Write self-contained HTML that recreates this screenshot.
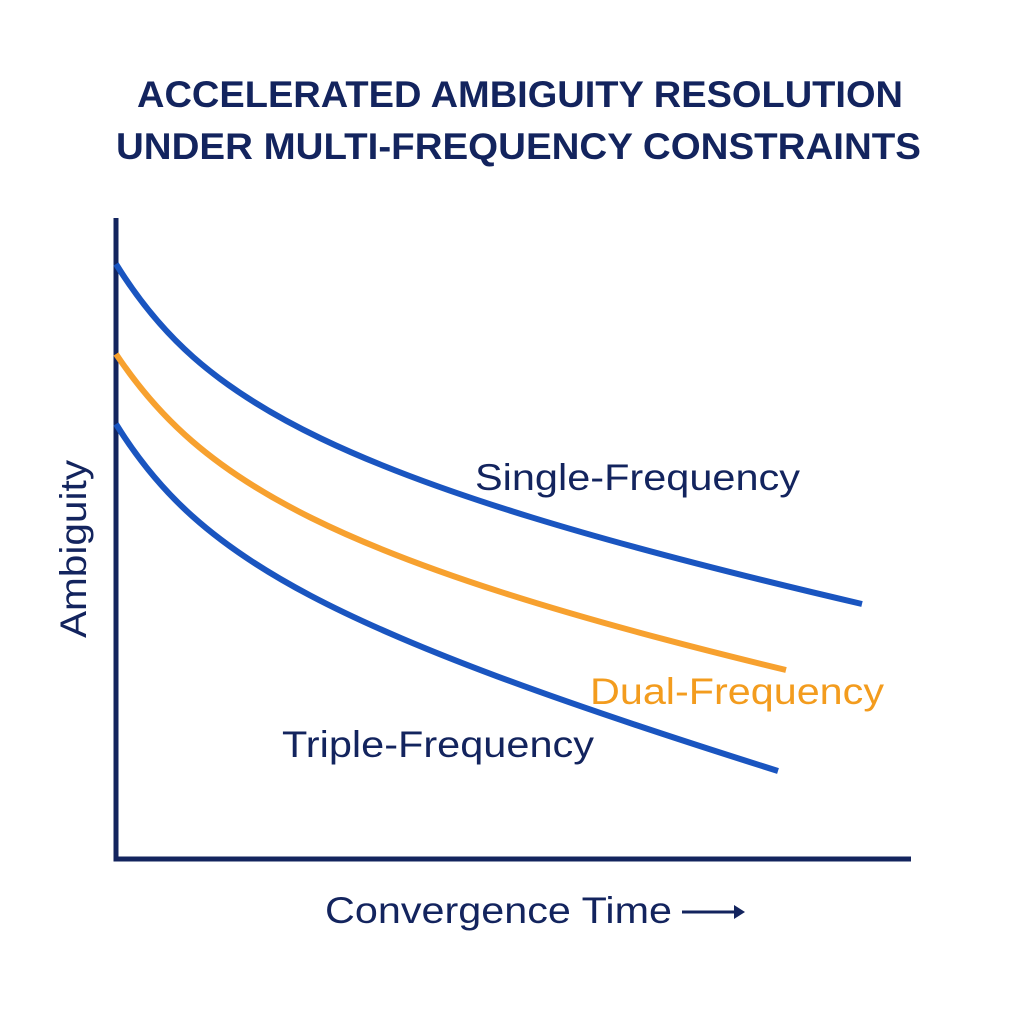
<!DOCTYPE html>
<html><head><style>html,body{margin:0;padding:0;background:#fff;}</style></head>
<body>
<svg width="1024" height="1024" viewBox="0 0 1024 1024" xmlns="http://www.w3.org/2000/svg" style="display:block">
<rect width="1024" height="1024" fill="#fff"/>
<g font-family="'Liberation Sans', sans-serif" fill="#13245e">
<text x="137" y="107" font-size="37" font-weight="bold" textLength="766" lengthAdjust="spacingAndGlyphs">ACCELERATED AMBIGUITY RESOLUTION</text>
<text x="116" y="159" font-size="37" font-weight="bold" textLength="805" lengthAdjust="spacingAndGlyphs">UNDER MULTI-FREQUENCY CONSTRAINTS</text>
<text x="475" y="490" font-size="37" textLength="325" lengthAdjust="spacingAndGlyphs">Single-Frequency</text>
<text x="282" y="757" font-size="37" textLength="312" lengthAdjust="spacingAndGlyphs">Triple-Frequency</text>
<text x="590" y="704" font-size="37" fill="#f39c1e" textLength="294" lengthAdjust="spacingAndGlyphs">Dual-Frequency</text>
<text x="325" y="923" font-size="37" textLength="347" lengthAdjust="spacingAndGlyphs">Convergence Time</text>
<text transform="translate(86,638) rotate(-90)" font-size="37" textLength="178" lengthAdjust="spacingAndGlyphs">Ambiguity</text>
</g>
<path d="M116 218 V859 H911" fill="none" stroke="#13245e" stroke-width="5"/>
<path d="M682 912 H740" stroke="#13245e" stroke-width="3"/>
<path d="M734 905 L745 912 L734 919 Z" fill="#13245e"/>
<path d="M116 264 C200 400, 330 480, 862 604" fill="none" stroke="#1a55c0" stroke-width="6"/>
<path d="M116 354 C200 480, 330 560, 786 670" fill="none" stroke="#f7a12f" stroke-width="6"/>
<path d="M116 424 C200 560, 330 630, 778 771" fill="none" stroke="#1a55c0" stroke-width="6"/>
</svg>
</body></html>
